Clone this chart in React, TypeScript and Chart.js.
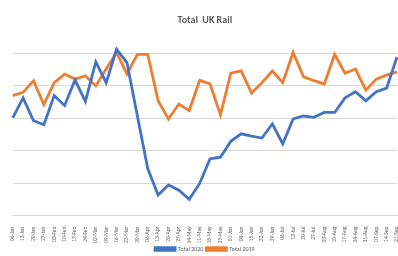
import React, { useEffect, useRef } from "react";
import { Chart, registerables } from "chart.js";

Chart.register(...registerables);

const weeks = [
  "06-Jan", "13-Jan", "20-Jan", "27-Jan", "03-Feb", "10-Feb", "17-Feb", "24-Feb",
  "02-Mar", "09-Mar", "16-Mar", "23-Mar", "30-Mar", "06-Apr", "13-Apr", "20-Apr",
  "27-Apr", "04-May", "11-May", "18-May", "25-May", "01-Jun", "08-Jun", "15-Jun",
  "22-Jun", "29-Jun", "06-Jul", "13-Jul", "20-Jul", "27-Jul", "03-Aug", "10-Aug",
  "17-Aug", "24-Aug", "31-Aug", "07-Sep", "14-Sep", "21-Sep",
];

const total2020 = [
  3.01, 3.63, 2.93, 2.8, 3.7, 3.39, 4.18, 3.52, 4.74, 4.1, 5.13, 4.72, 3.08, 1.45,
  0.63, 0.94, 0.78, 0.5, 0.99, 1.75, 1.8, 2.29, 2.52, 2.45, 2.39, 2.83, 2.21, 2.98,
  3.07, 3.03, 3.18, 3.18, 3.63, 3.82, 3.54, 3.82, 3.93, 4.89,
];

const total2019 = [
  3.7, 3.8, 4.16, 3.42, 4.1, 4.36, 4.21, 4.31, 4.0, 4.52, 5.03, 4.36, 4.97, 4.97,
  3.54, 2.98, 3.44, 3.24, 4.17, 4.06, 3.11, 4.39, 4.46, 3.78, 4.1, 4.46, 4.1, 5.03,
  4.28, 4.16, 4.06, 4.97, 4.39, 4.52, 3.87, 4.21, 4.33, 4.43,
];

const gridTicks = [0, 1, 2, 3, 4, 5];

const FONT = 'Carlito, Calibri, "Liberation Sans", Arial, sans-serif';

const legendHeightPlugin = {
  id: "legendHeight",
  beforeLayout(chart: any) {
    const lg = chart.legend;
    if (lg && !lg.__patched) {
      const orig = lg.fit.bind(lg);
      lg.fit = function () {
        orig();
        this.height = 12;
      };
      lg.__patched = true;
    }
  },
};

export default function App() {
  const ref = useRef<HTMLCanvasElement | null>(null);

  useEffect(() => {
    if (!ref.current) return;
    const chart = new Chart(ref.current, {
      type: "line",
      data: {
        labels: weeks,
        datasets: [
          {
            label: "Total 2020",
            data: total2020,
            borderColor: "#4472C4",
            backgroundColor: "#4472C4",
            borderWidth: 2.8,
            pointRadius: 0,
            tension: 0,
            clip: false as any,
          },
          {
            label: "Total 2019",
            data: total2019,
            borderColor: "#ED7D31",
            backgroundColor: "#ED7D31",
            borderWidth: 2.8,
            pointRadius: 0,
            tension: 0,
            clip: false as any,
          },
        ],
      },
      plugins: [legendHeightPlugin],
      options: {
        animation: false,
        responsive: false,
        maintainAspectRatio: false,
        layout: { padding: { left: 12.7, right: 1, top: 0, bottom: 1 } },
        plugins: {
          tooltip: { enabled: false },
          title: {
            display: true,
            text: "Total  UK Rail",
            color: "#595959",
            font: { family: FONT, size: 10, weight: "bold" },
            padding: { top: 14, bottom: 21 },
          },
          legend: {
            position: "bottom",
            labels: {
              color: "#595959",
              font: { family: FONT, size: 6 },
              boxWidth: 20,
              boxHeight: 2.5,
              padding: 3,
            },
          },
        },
        scales: {
          x: {
            offset: false,
            grid: { display: false },
            border: { display: true, color: "#d9d9d9", width: 1 },
            ticks: {
              autoSkip: false,
              maxRotation: 90,
              minRotation: 90,
              color: "#595959",
              font: { family: FONT, size: 5.5 },
              padding: 3,
            },
            afterFit: (scale: any) => {
              scale.paddingLeft = 0;
              scale.paddingRight = 0;
              scale.height = 27.5;
            },
          },
          y: {
            min: 0,
            max: 5.2,
            afterBuildTicks: (axis: any) => {
              axis.ticks = gridTicks.map((v) => ({ value: v }));
            },
            grid: { color: "#d9d9d9", drawTicks: false },
            border: { display: false },
            ticks: { display: false },
            afterFit: (scale: any) => {
              scale.width = 0;
            },
          },
        },
      },
    });
    return () => chart.destroy();
  }, []);

  return (
    <div style={{ position: "fixed", left: 0, top: 0, width: 398, height: 256, background: "#fff" }}>
      <canvas ref={ref} width={398} height={256} style={{ width: 398, height: 256 }} />
    </div>
  );
}
